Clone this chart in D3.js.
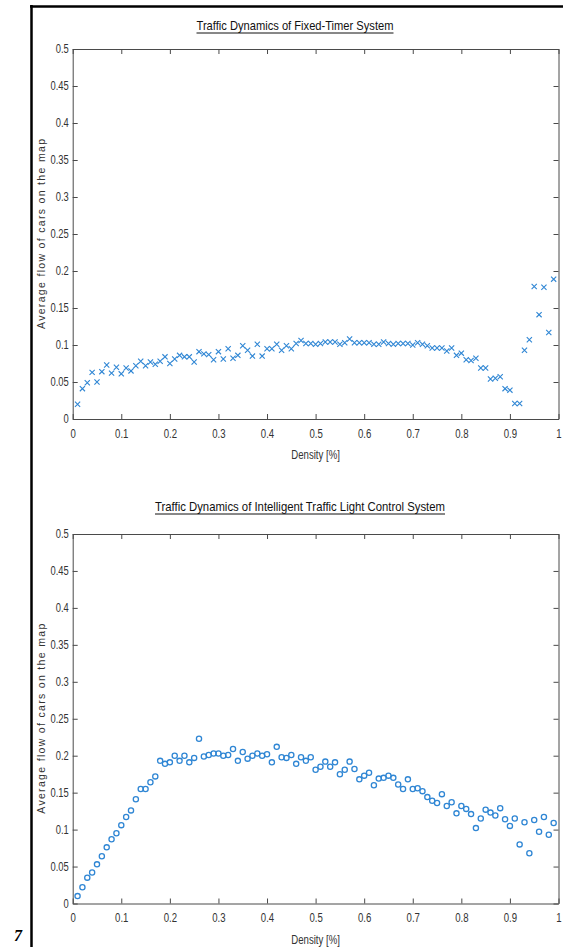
<!DOCTYPE html>
<html>
<head>
<meta charset="utf-8">
<script src="https://cdn.jsdelivr.net/npm/d3@7"></script>
<style>
  html, body { margin: 0; padding: 0; background: #fff; }
  svg { display: block; }
</style>
</head>
<body>
<svg id="chart" width="563" height="947"></svg>
<script>
// ---- Data ----
const density = d3.range(1, 100).map(i => i / 100);

const fixedTimerFlow = [
  0.020, 0.041, 0.049, 0.063, 0.050, 0.064, 0.073, 0.062, 0.070, 0.061,
  0.069, 0.065, 0.072, 0.078, 0.072, 0.077, 0.074, 0.078, 0.084, 0.075,
  0.081, 0.086, 0.084, 0.084, 0.077, 0.091, 0.088, 0.087, 0.080, 0.091,
  0.081, 0.095, 0.082, 0.086, 0.099, 0.093, 0.085, 0.101, 0.085, 0.095,
  0.095, 0.101, 0.093, 0.099, 0.095, 0.102, 0.106, 0.102, 0.102, 0.101,
  0.102, 0.104, 0.104, 0.104, 0.101, 0.103, 0.108, 0.103, 0.103, 0.103,
  0.103, 0.101, 0.101, 0.104, 0.102, 0.101, 0.102, 0.102, 0.102, 0.100,
  0.103, 0.101, 0.099, 0.096, 0.096, 0.096, 0.092, 0.096, 0.086, 0.089,
  0.080, 0.079, 0.082, 0.069, 0.069, 0.054, 0.055, 0.057, 0.041, 0.039,
  0.021, 0.021, 0.093, 0.107, 0.179, 0.141, 0.178, 0.117, 0.189
];

const intelligentFlow = [
  0.010, 0.022, 0.035, 0.042, 0.053, 0.064, 0.076, 0.087, 0.095, 0.106,
  0.117, 0.126, 0.141, 0.155, 0.155, 0.164, 0.172, 0.193, 0.189, 0.191,
  0.200, 0.193, 0.200, 0.191, 0.197, 0.223, 0.199, 0.201, 0.203, 0.203,
  0.200, 0.201, 0.209, 0.193, 0.205, 0.196, 0.200, 0.203, 0.200, 0.202,
  0.191, 0.212, 0.198, 0.197, 0.201, 0.189, 0.198, 0.193, 0.198, 0.181,
  0.185, 0.192, 0.185, 0.191, 0.175, 0.181, 0.192, 0.182, 0.168, 0.173,
  0.177, 0.160, 0.169, 0.170, 0.173, 0.170, 0.161, 0.155, 0.168, 0.155,
  0.156, 0.152, 0.144, 0.139, 0.136, 0.148, 0.132, 0.137, 0.122, 0.132,
  0.128, 0.121, 0.102, 0.115, 0.127, 0.123, 0.119, 0.129, 0.114, 0.105,
  0.115, 0.080, 0.110, 0.068, 0.113, 0.097, 0.117, 0.093, 0.109
];

const xTicks = [0, 0.1, 0.2, 0.3, 0.4, 0.5, 0.6, 0.7, 0.8, 0.9, 1];
const yTicks = [0, 0.05, 0.1, 0.15, 0.2, 0.25, 0.3, 0.35, 0.4, 0.45, 0.5];
const titles = ["Traffic Dynamics of Fixed-Timer System",
                "Traffic Dynamics of Intelligent Traffic Light Control System"];
const xLabel = "Density [%]";
const yLabel = "Average flow of cars on the map";

// ---- Drawing ----
const svg = d3.select("#chart");
const axisColor = "#4a4a4a";
const markColor = "#2f86d4";
const sans = '"Liberation Sans", Arial, sans-serif';

// squeeze text horizontally to mimic a narrow font
function narrowText(sel, factor) {
  sel.each(function () {
    const w = this.getComputedTextLength();
    if (w > 0) {
      d3.select(this).attr("textLength", w * factor).attr("lengthAdjust", "spacingAndGlyphs");
    }
  });
}

// outer figure border (black frame at top-left)
svg.append("line").attr("x1", 31.5).attr("y1", 5).attr("x2", 31.5).attr("y2", 947)
  .attr("stroke", "#000").attr("stroke-width", 2.5);
svg.append("line").attr("x1", 30).attr("y1", 6.5).attr("x2", 563).attr("y2", 6.5)
  .attr("stroke", "#000").attr("stroke-width", 2.5);

// cropped figure number
svg.append("text").attr("x", 14).attr("y", 941)
  .attr("font-family", '"Liberation Serif", serif')
  .attr("font-weight", "bold").attr("font-style", "italic")
  .attr("font-size", 16).text("7");

const panels = [
  { top: 49, bottom: 419, data: fixedTimerFlow, marker: "x", title: titles[0], titleX: 295, titleY: 30, titleW: 197 },
  { top: 534, bottom: 903.5, data: intelligentFlow, marker: "o", title: titles[1], titleX: 300, titleY: 511, titleW: 290 }
];

const left = 72.7, right = 558.5;

panels.forEach(p => {
  const x = d3.scaleLinear().domain([0, 1]).range([left, right]);
  const y = d3.scaleLinear().domain([0, 0.5]).range([p.bottom, p.top]);
  const g = svg.append("g");

  const fmt = d => String(+d.toFixed(2));

  const styleAxis = sel => {
    sel.select(".domain").attr("stroke", axisColor).attr("stroke-width", 1);
    sel.selectAll(".tick line").attr("stroke", axisColor).attr("stroke-width", 1);
    sel.selectAll(".tick text").attr("fill", "#333").attr("font-size", 12)
      .attr("font-family", sans);
  };

  const xb = g.append("g").attr("transform", `translate(0,${p.bottom})`)
    .call(d3.axisBottom(x).tickValues(xTicks).tickFormat(fmt).tickSizeInner(-5).tickSizeOuter(0).tickPadding(10))
    .call(styleAxis);
  g.append("g").attr("transform", `translate(0,${p.top})`)
    .call(d3.axisTop(x).tickValues(xTicks).tickFormat("").tickSizeInner(-5).tickSizeOuter(0))
    .call(styleAxis);
  const yl = g.append("g").attr("transform", `translate(${left},0)`)
    .call(d3.axisLeft(y).tickValues(yTicks).tickFormat(fmt).tickSizeInner(-5).tickSizeOuter(0).tickPadding(4))
    .call(styleAxis);
  g.append("g").attr("transform", `translate(${right},0)`)
    .call(d3.axisRight(y).tickValues(yTicks).tickFormat("").tickSizeInner(-5).tickSizeOuter(0))
    .call(styleAxis);
  narrowText(xb.selectAll(".tick text"), 0.8);
  narrowText(yl.selectAll(".tick text"), 0.78);

  // title (underlined)
  g.append("text").attr("x", p.titleX).attr("y", p.titleY)
    .attr("text-anchor", "middle").attr("font-family", sans)
    .attr("font-size", 13).attr("fill", "#111")
    .attr("textLength", p.titleW).attr("lengthAdjust", "spacingAndGlyphs")
    .text(p.title);
  g.append("line").attr("x1", p.titleX - p.titleW / 2).attr("x2", p.titleX + p.titleW / 2)
    .attr("y1", p.titleY + 3).attr("y2", p.titleY + 3)
    .attr("stroke", "#111").attr("stroke-width", 1);

  // x label
  const xt = g.append("text").attr("x", (left + right) / 2).attr("y", p.bottom + 40)
    .attr("text-anchor", "middle").attr("font-family", sans)
    .attr("font-size", 12).attr("fill", "#333").text(xLabel);
  narrowText(xt, 0.8);

  // y label
  const cy = (p.top + p.bottom) / 2;
  g.append("text").attr("transform", `translate(45,${cy}) rotate(-90)`)
    .attr("text-anchor", "middle").attr("font-family", sans)
    .attr("font-size", 10.5).attr("fill", "#333")
    .attr("textLength", 190).attr("lengthAdjust", "spacing")
    .text(yLabel);

  // markers
  const pts = g.append("g");
  if (p.marker === "x") {
    const s = 2.6;
    pts.selectAll("path").data(p.data).join("path")
      .attr("d", (d, i) => {
        const cx = x(density[i]), cy2 = y(d);
        return `M${cx - s},${cy2 - s}L${cx + s},${cy2 + s}M${cx - s},${cy2 + s}L${cx + s},${cy2 - s}`;
      })
      .attr("stroke", markColor).attr("stroke-width", 1.1).attr("fill", "none");
  } else {
    pts.selectAll("circle").data(p.data).join("circle")
      .attr("cx", (d, i) => x(density[i])).attr("cy", d => y(d))
      .attr("r", 2.6).attr("fill", "none")
      .attr("stroke", markColor).attr("stroke-width", 1.3);
  }
});
</script>
</body>
</html>
